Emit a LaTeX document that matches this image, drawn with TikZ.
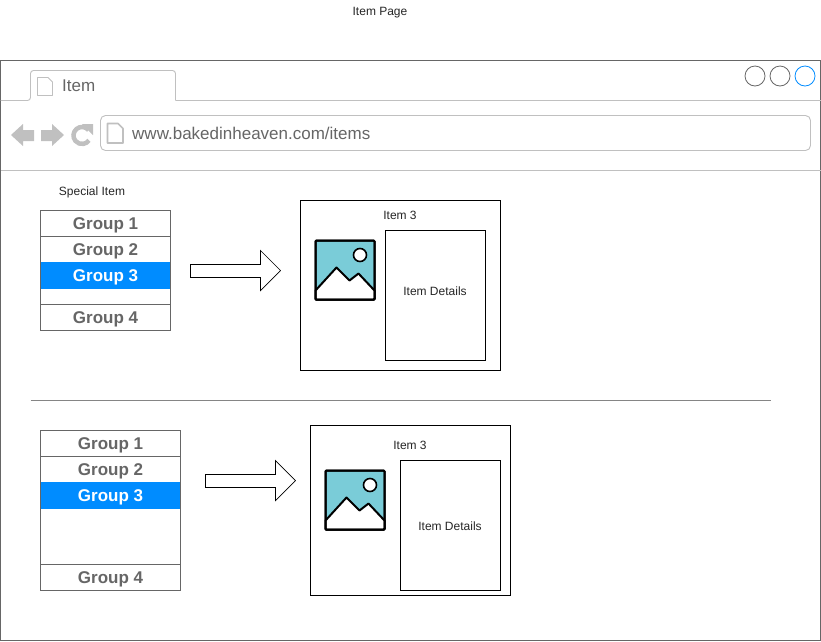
\documentclass[tikz,border=0pt]{standalone}
\usepackage{fontspec}
\setmainfont{Liberation Sans}
\usetikzlibrary{arrows}
\definecolor{winline}{HTML}{666666}
\definecolor{barline}{HTML}{C0C0C0}
\definecolor{navblue}{HTML}{008CFF}
\definecolor{imgsky}{HTML}{7ACCD8}
% one picture icon, top left corner at #1,#2
\newcommand{\imgicon}[2]{
\draw[fill=imgsky,line width=2pt,rounded corners=1pt] (#1,#2) rectangle ++(59,59);
\draw[fill=white,line width=2pt,line join=round] (#1,#2+50)--++(21,-23)--++(13,13)--++(9,-7)--++(16,17)--++(0,9)--++(-59,0)--cycle;
\draw[line width=2pt,rounded corners=1pt] (#1,#2) rectangle ++(59,59);
\draw[fill=white,line width=1.6pt] (#1+44.5,#2+14.5) circle (6.5);
}
\tikzset{
smalltext/.style={font=\fontsize{12}{14}\selectfont,text=black!85},
grouptext/.style={font=\fontsize{17}{20}\selectfont\bfseries,text=winline},
grouphot/.style={font=\fontsize{17}{20}\selectfont\bfseries,text=white},
bartext/.style={font=\fontsize{17}{20}\selectfont,text=winline,inner sep=0pt},
listbox/.style={draw=winline,line width=0.8pt},
navshape/.style={fill=barline,draw=none},
}
\begin{document}
\begin{tikzpicture}[x=1pt,y=-1pt,line cap=butt,line join=miter]
\useasboundingbox (0,0) rectangle (821,641);
\fill[white] (0,0) rectangle (821,641);
\node[smalltext] (title) at (380,12.5) {Item Page};
% browser window
\draw[winline,line width=0.9pt] (0.5,60.5) rectangle (820.5,640.5);
\draw[barline,line width=0.9pt,rounded corners=3pt] (0.5,100.5)--(30.5,100.5)--(30.5,70.5)--(175.5,70.5)--(175.5,100.5);
\draw[barline,line width=0.9pt] (175.5,100.5)--(820.5,100.5);
\draw[barline,line width=0.9pt] (0.5,170.5)--(820.5,170.5);
\draw[barline,line width=0.9pt,rounded corners=5pt] (100.5,115.5) rectangle (810.5,150.5);
\draw[winline,line width=0.8pt] (755,76) circle (10);
\draw[winline,line width=0.8pt] (780,76) circle (10);
\draw[navblue,line width=0.8pt] (805,76) circle (10);
% tab and address page icons
\draw[barline,line width=0.9pt,line join=round] (37.5,77.5)--(48,77.5)--(52.5,82)--(52.5,95.5)--(37.5,95.5)--cycle;
\draw[barline,line width=1.6pt,line join=round] (107.5,123.5)--(118,123.5)--(123,128.5)--(123,143)--(107.5,143)--cycle;
\node[bartext,anchor=west] (tabtext) at (62,85.5) {Item};
\node[bartext,anchor=west] (urltext) at (132,133.5) {www.bakedinheaven.com/items};
% back, forward, reload
\fill[navshape] (11,135)--(23,124)--(23,130)--(34,130)--(34,141)--(23,141)--(23,146)--cycle;
\fill[navshape] (64,135)--(52,124)--(52,130)--(41,130)--(41,141)--(52,141)--(52,146)--cycle;
\draw[barline,line width=4.5pt] (88.5,130) arc (-40:-325:8.5);
\fill[navshape] (82,124)--(93,124)--(93,135)--cycle;
\node[smalltext] (specialtext) at (92,192.5) {Special Item};
% first list
\fill[navblue] (40,262) rectangle (171,289);
\draw[listbox] (40.5,210.5) rectangle (170.5,330.5);
\draw[listbox] (40.5,236.5)--(170.5,236.5);
\draw[listbox] (40.5,304.5)--(170.5,304.5);
\node[grouptext] (groupa) at (105.5,225) {Group 1};
\node[grouptext] (groupb) at (105.5,251) {Group 2};
\node[grouphot] (groupc) at (105.5,277) {Group 3};
\node[grouptext] (groupd) at (105.5,319) {Group 4};
\draw[line width=0.7pt,fill=white] (190.5,264.5)--(260.5,264.5)--(260.5,250.5)--(280.5,270.5)--(260.5,290.5)--(260.5,277.5)--(190.5,277.5)--cycle;
% first card
\draw[line width=0.8pt] (300.5,200.5) rectangle (500.5,370.5);
\draw[line width=0.8pt] (385.5,230.5) rectangle (485.5,360.5);
\node[smalltext] (carda) at (400,215.5) {Item 3};
\node[smalltext] (detailsa) at (435,291) {Item Details};
\imgicon{315.5}{240.5}
% divider
\draw[winline!80,line width=0.8pt] (30.5,400.5)--(770.5,400.5);
% second list
\fill[navblue] (40,482) rectangle (181,509);
\draw[listbox] (40.5,430.5) rectangle (180.5,590.5);
\draw[listbox] (40.5,456.5)--(180.5,456.5);
\draw[listbox] (40.5,564.5)--(180.5,564.5);
\node[grouptext] (groupe) at (110.5,445) {Group 1};
\node[grouptext] (groupf) at (110.5,471) {Group 2};
\node[grouphot] (groupg) at (110.5,497) {Group 3};
\node[grouptext] (grouph) at (110.5,579) {Group 4};
\draw[line width=0.7pt,fill=white] (205.5,474.5)--(275.5,474.5)--(275.5,460.5)--(295.5,480.5)--(275.5,500.5)--(275.5,487.5)--(205.5,487.5)--cycle;
% second card
\draw[line width=0.8pt] (310.5,425.5) rectangle (510.5,595.5);
\draw[line width=0.8pt] (400.5,460.5) rectangle (500.5,590.5);
\node[smalltext] (cardb) at (410,445.5) {Item 3};
\node[smalltext] (detailsb) at (450,526) {Item Details};
\imgicon{325.5}{470.5}
\end{tikzpicture}
\end{document}
